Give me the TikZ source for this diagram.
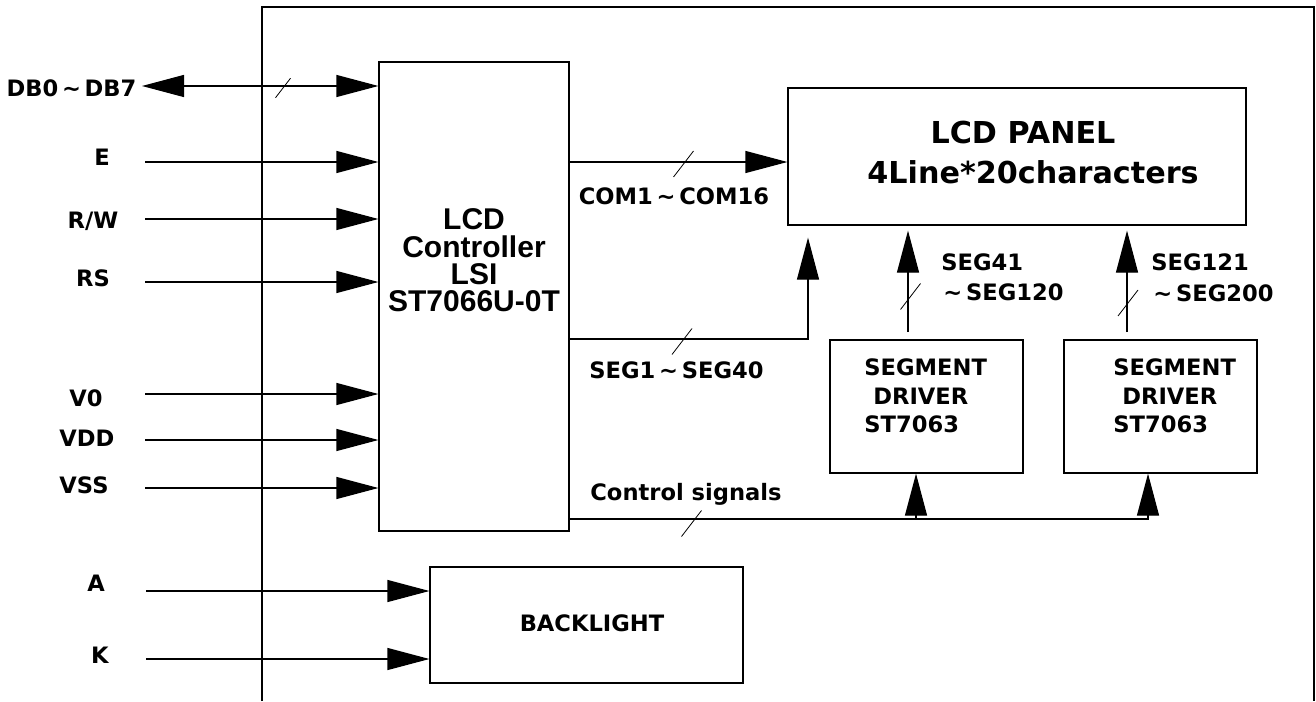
\documentclass[tikz,border=0pt]{standalone}
\usepackage{fontspec}
\setmainfont{DejaVu Sans}
\newfontfamily\ctrlfont{Liberation Sans}
\usetikzlibrary{positioning, calc, arrows.meta}

\tikzset{
  block/.style={draw, line width=0.6pt, inner sep=0pt},
  sig/.style={line width=0.6pt, -{Triangle[length=21pt, width=11pt]}},
  dsig/.style={line width=0.6pt, {Triangle[length=21pt, width=11pt]}-{Triangle[length=21pt, width=11pt]}},
  lbl/.style={font=\fontsize{11.3}{13}\selectfont\bfseries, inner sep=0pt},
  biglbl/.style={font=\fontsize{15.1}{18}\selectfont\bfseries, inner sep=0pt},
  ctrllbl/.style={font=\ctrlfont\bfseries\fontsize{15}{13}\selectfont, inner sep=0pt},
  busmark/.style={line width=0.4pt}
}
\newcommand{\busslash}[2][1]{\draw[busmark] ($(#2)+(-10*#1,13*#1)$) -- ($(#2)+(10*#1,-13*#1)$);}

\begin{document}
\begin{tikzpicture}[x=0.5pt, y=-0.5pt]
  \useasboundingbox (0,0) rectangle (1316,701);
  % module outline
  \draw[line width=0.6pt] (262,701) -- (262,7) -- (1314,7) -- (1314,701);

  % blocks
  \node[block, minimum width=95pt, minimum height=234.5pt] (ctrl) at (474,296.5) {};
  \node[block, minimum width=229pt, minimum height=68.5pt] (panel) at (1017,156.5) {};
  \node[block, minimum width=96.5pt, minimum height=66.5pt] (drv1) at (926.5,406.5) {};
  \node[block, minimum width=96.5pt, minimum height=66.5pt] (drv2) at (1160.5,406.5) {};
  \node[block, minimum width=156.5pt, minimum height=58pt] (blight) at (586.5,625) {};

  % block texts
  \node[ctrllbl, anchor=base] (ctrltxt1) at (474,229) {LCD};
  \node[ctrllbl, anchor=base] (ctrltxt2) at (474,257) {Controller};
  \node[ctrllbl, anchor=base] (ctrltxt3) at (474,284) {LSI};
  \node[ctrllbl, anchor=base] (ctrltxt4) at (474,311) {ST7066U-0T};
  \node[biglbl] (paneltxt1) at (1023,133) {LCD PANEL};
  \node[biglbl] (paneltxt2) at (1033,172) {4Line*20characters};
  \node[lbl, anchor=west] (drv1a) at (864,367) {SEGMENT};
  \node[lbl, anchor=west] (drv1b) at (873,396) {DRIVER};
  \node[lbl, anchor=west] (drv1c) at (864,424) {ST7063};
  \node[lbl, anchor=west] (drv2a) at (1113,367) {SEGMENT};
  \node[lbl, anchor=west] (drv2b) at (1122,396) {DRIVER};
  \node[lbl, anchor=west] (drv2c) at (1113,424) {ST7063};
  \node[lbl] (blighttxt) at (592,623) {BACKLIGHT};

  % interface pins
  \coordinate (inDB) at (142,86);
  \draw[dsig] (inDB) -- (inDB -| ctrl.west);
  \busslash[0.75]{283,88}
  \foreach \nm/\yy in {E/162, RW/219, RS/282, VO/394, VDD/440, VSS/488} {
    \coordinate (in\nm) at (145,\yy);
    \draw[sig] (in\nm) -- (in\nm -| ctrl.west);
  }
  \foreach \nm/\yy in {A/591, K/659} {
    \coordinate (in\nm) at (146,\yy);
    \draw[sig] (in\nm) -- (in\nm -| blight.west);
  }
  \node[lbl] (lDB) at (71.5,88) {DB0\,{\char"007E}\,DB7};
  \node[lbl] (lE) at (102,157) {E};
  \node[lbl] (lRW) at (93,221) {R/W};
  \node[lbl] (lRS) at (93,278) {RS};
  \node[lbl] (lVO) at (86,398.5) {V0};
  \node[lbl] (lVDD) at (87,438.5) {VDD};
  \node[lbl] (lVSS) at (84,485.5) {VSS};
  \node[lbl] (lA) at (96,583.5) {A};
  \node[lbl] (lK) at (100,655) {K};

  % common lines
  \coordinate (com) at (569,162);
  \draw[sig] (com -| ctrl.east) -- (com -| panel.west);
  \busslash{683.5,164}
  \node[lbl] (lcom) at (674,196) {COM1\,{\char"007E}\,COM16};

  % segment lines from controller
  \coordinate (seg) at (808,339);
  \draw[sig, shorten >=6pt] (seg -| ctrl.east) -- (seg) -- (seg |- panel.south);
  \busslash{682,341.5}
  \node[lbl] (lseg) at (676.5,370.5) {SEG1\,{\char"007E}\,SEG40};

  % segment lines from drivers
  \coordinate (segA) at (908,340);
  \coordinate (segB) at (1127,340);
  \draw[sig, shorten <=4pt, shorten >=2.5pt] (segA) -- (segA |- panel.south);
  \draw[sig, shorten <=4pt, shorten >=2.5pt] (segB) -- (segB |- panel.south);
  \busslash{910.5,296.5}
  \busslash{1128,303}
  \node[lbl, anchor=west] (lsegA1) at (941,262) {SEG41};
  \node[lbl, anchor=west] (lsegA2) at (943,292) {{\char"007E}\,SEG120};
  \node[lbl, anchor=west] (lsegB1) at (1151,262) {SEG121};
  \node[lbl, anchor=west] (lsegB2) at (1153,293) {{\char"007E}\,SEG200};

  % control signals
  \coordinate (ctl) at (569,519);
  \coordinate (ctlA) at (916,519);
  \coordinate (ctlB) at (1148,519);
  \draw[sig] (ctl -| ctrl.east) -- (ctlB) -- (ctlB |- drv2.south);
  \draw[sig] (ctlA) -- (ctlA |- drv1.south);
  \busslash{691.5,523.5}
  \node[lbl, anchor=base west] (lctl) at (590,500) {Control signals};
\end{tikzpicture}
\end{document}
